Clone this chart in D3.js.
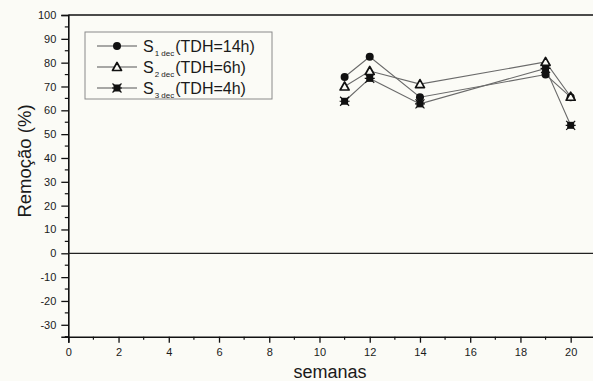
<!DOCTYPE html>
<html>
<head>
<meta charset="utf-8">
<script src="https://cdn.jsdelivr.net/npm/d3@7"></script>
<style>
  html, body { margin: 0; padding: 0; background: #fbfbf6; }
  svg { display: block; }
  text { font-family: "Liberation Sans", Arial, sans-serif; fill: #1a1a1a; }
</style>
</head>
<body>
<svg id="chart" width="593" height="381"></svg>
<script>
// ---- data ----
const weeks = [11, 12, 14, 19, 20];
const s1 = [74, 82.5, 65.5, 75, 65.5];   // S1 dec (TDH=14h) circles
const s2 = [70, 76.5, 71, 80.3, 65.7];   // S2 dec (TDH=6h) triangles
const s3 = [63.8, 73.4, 62.7, 77.6, 53.7]; // S3 dec (TDH=4h) stars
const seriesNames = ["1", "2", "3"];
const seriesLabels = ["(TDH=14h)", "(TDH=6h)", "(TDH=4h)"];
const xTicks = [0, 2, 4, 6, 8, 10, 12, 14, 16, 18, 20];
const yTicks = [-30, -20, -10, 0, 10, 20, 30, 40, 50, 60, 70, 80, 90, 100];

const svg = d3.select("#chart");
const x = d3.scaleLinear().domain([0, 21]).range([68.3, 595.8]);
const y = d3.scaleLinear().domain([-35, 100]).range([336.7, 15]);

const fmt = d => String(d);

// axes
const xMinor = d3.range(1, 21, 2);
const yMinor = d3.range(-35, 100, 10);

const gx = svg.append("g").attr("transform", `translate(0,${y(-35)})`)
  .call(d3.axisBottom(x).tickValues(xTicks).tickSize(6).tickPadding(6).tickFormat(fmt));
gx.select(".domain").attr("stroke", "#111").attr("stroke-width", 1.6);
gx.selectAll(".tick line").attr("stroke", "#111").attr("stroke-width", 1.3);
gx.selectAll(".tick text").attr("font-size", 11).style("font-family", "Liberation Sans, Arial, sans-serif").attr("fill", "#111");
gx.append("g").selectAll("line").data(xMinor).join("line")
  .attr("x1", d => x(d)).attr("x2", d => x(d)).attr("y1", 0).attr("y2", 3)
  .attr("stroke", "#111").attr("stroke-width", 1.2);

const gy = svg.append("g").attr("transform", `translate(${x(0)},0)`)
  .call(d3.axisLeft(y).tickValues(yTicks).tickSize(7).tickPadding(5).tickFormat(fmt));
gy.select(".domain").attr("stroke", "#111").attr("stroke-width", 1.6);
gy.selectAll(".tick line").attr("stroke", "#111").attr("stroke-width", 1.3);
gy.selectAll(".tick text").attr("font-size", 11).style("font-family", "Liberation Sans, Arial, sans-serif").attr("fill", "#111");
gy.append("g").selectAll("line").data(yMinor).join("line")
  .attr("x1", 0).attr("x2", -3.5).attr("y1", d => y(d)).attr("y2", d => y(d))
  .attr("stroke", "#111").attr("stroke-width", 1.2);

// top border
svg.append("line").attr("x1", x(0)).attr("x2", 593).attr("y1", y(100)).attr("y2", y(100))
  .attr("stroke", "#111").attr("stroke-width", 1.6);
// zero line
svg.append("line").attr("x1", x(0)).attr("x2", 593).attr("y1", y(0)).attr("y2", y(0))
  .attr("stroke", "#222").attr("stroke-width", 1.2);

// axis titles
svg.append("text").attr("x", 330).attr("y", 378).attr("text-anchor", "middle")
  .attr("font-size", 18).text("semanas");
svg.append("text").attr("transform", "translate(31,161) rotate(-90)").attr("text-anchor", "middle")
  .attr("font-size", 18.5).text("Remoção (%)");

// markers
function drawMarker(g, type, cx, cy) {
  if (type === 0) {
    g.append("circle").attr("cx", cx).attr("cy", cy).attr("r", 4).attr("fill", "#111");
  } else if (type === 1) {
    g.append("path").attr("d", `M${cx},${cy - 4.5}L${cx + 4.5},${cy + 3.5}L${cx - 4.5},${cy + 3.5}Z`)
      .attr("fill", "#fbfbf6").attr("stroke", "#111").attr("stroke-width", 1.7).attr("stroke-linejoin", "round");
  } else {
    g.append("rect").attr("x", cx - 3.5).attr("y", cy - 3.5).attr("width", 7).attr("height", 7).attr("fill", "#111");
    g.append("path").attr("d", `M${cx - 4.5},${cy - 4.5}L${cx + 4.5},${cy + 4.5}M${cx + 4.5},${cy - 4.5}L${cx - 4.5},${cy + 4.5}M${cx - 5},${cy}L${cx + 5},${cy}`)
      .attr("stroke", "#111").attr("stroke-width", 1.2);
  }
}

const series = [s1, s3, s2];
const types = [0, 2, 1];
const line = d3.line().x((d, i) => x(weeks[i])).y(d => y(d));
const gl = svg.append("g");
series.forEach(s => {
  gl.append("path").attr("d", line(s)).attr("fill", "none").attr("stroke", "#6a6a6a").attr("stroke-width", 1.1);
});
const gm = svg.append("g");
series.forEach((s, k) => {
  s.forEach((v, i) => drawMarker(gm, types[k], x(weeks[i]), y(v)));
});

// legend
const lg = svg.append("g");
lg.append("rect").attr("x", 85).attr("y", 32).attr("width", 187).attr("height", 67)
  .attr("fill", "none").attr("stroke", "#8a8a8a").attr("stroke-width", 1);
const rowY = [46, 67, 88];
seriesNames.forEach((n, k) => {
  const cy = rowY[k];
  lg.append("line").attr("x1", 97).attr("x2", 137).attr("y1", cy).attr("y2", cy)
    .attr("stroke", "#555").attr("stroke-width", 1.1);
  drawMarker(lg, k, 117, cy);
  const t = lg.append("text").attr("x", 143).attr("y", cy + 6).attr("font-size", 16);
  t.append("tspan").text("S");
  t.append("tspan").attr("font-size", 8).attr("dy", 4).attr("dx", 1).text(n + " dec");
  t.append("tspan").attr("dy", -4).attr("dx", 1).text(seriesLabels[k]);
});
</script>
</body>
</html>
